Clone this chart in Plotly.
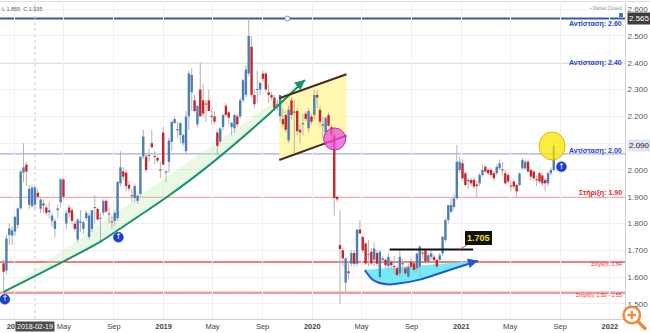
import plotly.graph_objects as go
import pandas as pd

# ---------------- DATA (weekly candles) ----------------
first_week = "2017-12-04"
opens = [1.652,1.625,1.757,1.755,1.770,1.795,1.857,1.990,2.020,1.870,1.865,1.870,1.915,1.855,1.875,1.860,1.842,1.810,1.780,1.850,
         1.880,1.965,1.800,1.860,1.850,1.800,1.740,1.802,1.780,1.820,1.750,1.780,1.858,1.855,1.818,1.840,1.885,1.838,1.808,1.810,
         1.820,1.950,1.995,1.990,1.945,1.906,1.895,1.885,1.910,2.050,2.050,2.052,2.100,2.052,2.045,2.002,2.140,1.990,2.030,2.105,
         2.175,2.152,2.130,2.100,2.070,2.200,2.290,2.260,2.170,2.300,2.260,2.248,2.260,2.202,2.200,2.140,2.106,2.160,2.240,2.215,
         2.160,2.155,2.200,2.200,2.260,2.280,2.360,2.460,2.280,2.298,2.300,2.360,2.360,2.290,2.280,2.270,2.240,2.200,2.190,2.205,
         2.110,2.260,2.218,2.220,2.150,2.170,2.210,2.155,2.200,2.205,2.280,2.225,2.170,2.140,2.205,2.160,2.130,1.900,1.720,1.700,
         1.580,1.622,1.650,1.690,1.650,1.778,1.750,1.726,1.682,1.695,1.665,1.690,1.600,1.670,1.665,1.640,1.657,1.642,1.633,1.614,
         1.652,1.633,1.602,1.658,1.652,1.633,1.640,1.692,1.700,1.658,1.676,1.676,1.664,1.664,1.689,1.739,1.813,1.844,1.862,1.894,
         2.000,2.025,1.988,1.957,1.963,1.963,1.946,1.950,1.981,2.012,2.000,2.000,1.988,1.988,2.006,2.002,1.988,1.981,1.942,1.957,
         1.944,1.944,2.006,2.006,2.031,2.000,1.994,1.965,1.988,1.980,1.963,1.950,1.988,2.000]
highs = [1.665,1.760,1.800,1.790,1.830,1.860,2.000,2.100,2.030,1.945,1.945,1.940,1.930,1.895,1.890,1.870,1.880,1.840,1.820,1.870,
         1.970,1.970,1.850,1.870,1.860,1.810,1.820,1.850,1.810,1.850,1.840,1.850,1.905,1.860,1.840,1.890,1.890,1.860,1.830,1.850,
         1.960,2.070,2.010,2.000,1.960,1.930,1.950,1.910,2.050,2.150,2.060,2.080,2.150,2.070,2.050,2.030,2.160,2.000,2.120,2.180,
         2.200,2.180,2.180,2.135,2.220,2.370,2.380,2.280,2.240,2.400,2.320,2.260,2.300,2.230,2.220,2.150,2.160,2.210,2.250,2.220,
         2.180,2.210,2.210,2.270,2.340,2.390,2.565,2.500,2.300,2.370,2.330,2.370,2.365,2.320,2.290,2.280,2.260,2.280,2.230,2.220,
         2.240,2.270,2.260,2.230,2.170,2.210,2.220,2.230,2.210,2.300,2.300,2.240,2.200,2.200,2.215,2.170,2.140,1.905,1.850,1.710,
         1.675,1.660,1.700,1.700,1.780,1.813,1.755,1.730,1.740,1.710,1.730,1.700,1.700,1.680,1.670,1.690,1.665,1.680,1.640,1.700,
         1.670,1.640,1.650,1.670,1.660,1.690,1.720,1.700,1.705,1.690,1.700,1.685,1.670,1.690,1.755,1.820,1.870,1.894,1.910,2.093,
         2.050,2.040,1.995,1.970,1.970,1.975,1.960,1.990,2.020,2.020,2.005,2.010,1.995,2.020,2.040,2.030,2.000,1.990,1.960,1.965,
         1.950,1.990,2.045,2.040,2.040,2.005,2.000,1.980,1.995,1.990,1.970,1.995,2.010,2.100]
lows = [1.545,1.610,1.720,1.720,1.755,1.780,1.850,1.955,1.940,1.855,1.860,1.855,1.890,1.840,1.840,1.830,1.820,1.790,1.750,1.820,
        1.860,1.890,1.780,1.820,1.800,1.770,1.730,1.770,1.760,1.810,1.740,1.770,1.800,1.810,1.730,1.830,1.840,1.800,1.780,1.790,
        1.810,1.940,1.960,1.920,1.920,1.880,1.880,1.875,1.900,2.040,1.990,2.030,2.080,2.020,2.025,1.970,2.020,1.955,1.990,2.070,
        2.170,2.120,2.100,2.090,2.060,2.150,2.220,2.215,2.160,2.200,2.200,2.180,2.220,2.170,2.170,2.060,2.100,2.150,2.200,2.170,
        2.130,2.140,2.160,2.190,2.250,2.270,2.350,2.270,2.230,2.250,2.280,2.330,2.290,2.250,2.260,2.220,2.220,2.180,2.160,2.140,
        2.100,2.190,2.060,2.130,2.100,2.130,2.180,2.140,2.170,2.190,2.230,2.170,2.120,2.130,2.160,2.080,1.830,1.880,1.500,1.640,
        1.545,1.590,1.640,1.640,1.640,1.760,1.690,1.645,1.640,1.645,1.640,1.640,1.590,1.655,1.630,1.620,1.630,1.610,1.600,1.600,
        1.620,1.605,1.595,1.630,1.615,1.620,1.600,1.670,1.650,1.650,1.665,1.655,1.630,1.655,1.680,1.730,1.800,1.840,1.850,1.890,
        1.990,1.960,1.940,1.930,1.940,1.930,1.900,1.940,1.975,1.990,1.980,1.975,1.960,1.980,2.000,1.980,1.945,1.950,1.920,1.930,
        1.900,1.940,2.000,2.000,1.990,1.960,1.960,1.940,1.950,1.940,1.920,1.940,1.980,1.995]
closes = [1.620,1.745,1.782,1.775,1.825,1.857,1.994,2.010,1.994,1.930,1.935,1.935,1.900,1.890,1.868,1.840,1.850,1.830,1.810,1.857,
          1.965,1.900,1.840,1.840,1.810,1.780,1.815,1.808,1.805,1.840,1.830,1.850,1.862,1.815,1.822,1.885,1.845,1.834,1.804,1.840,
          1.955,2.010,1.975,1.940,1.930,1.902,1.940,1.905,2.050,2.125,2.000,2.056,2.085,2.048,2.035,1.998,2.020,1.995,2.110,2.180,
          2.190,2.148,2.175,2.130,2.200,2.360,2.355,2.220,2.240,2.200,2.210,2.244,2.220,2.198,2.180,2.090,2.155,2.205,2.205,2.195,
          2.175,2.205,2.170,2.260,2.335,2.375,2.500,2.280,2.245,2.302,2.325,2.340,2.300,2.280,2.270,2.230,2.245,2.280,2.170,2.150,
          2.225,2.205,2.214,2.145,2.140,2.175,2.190,2.220,2.180,2.280,2.270,2.180,2.165,2.195,2.165,2.130,1.895,1.890,1.705,1.670,
          1.670,1.615,1.690,1.650,1.778,1.763,1.700,1.651,1.686,1.651,1.707,1.650,1.695,1.665,1.645,1.676,1.645,1.638,1.608,1.676,
          1.648,1.614,1.639,1.639,1.627,1.689,1.714,1.688,1.658,1.682,1.689,1.664,1.640,1.682,1.751,1.813,1.869,1.869,1.894,2.031,
          2.031,1.969,1.944,1.963,1.950,1.938,1.940,1.981,2.000,1.994,1.988,1.981,1.969,2.012,2.025,1.998,1.950,1.957,1.938,1.938,
          1.920,1.988,2.037,2.031,1.994,1.975,1.969,1.962,1.957,1.950,1.950,1.988,2.000,2.090]

# horizontal levels (price) and their labels
level_values = [2.565, 2.40, 2.06, 1.90, 1.657, 1.542]
level_labels = ["Αντίσταση: 2.60", "Αντίσταση: 2.40", "Αντίσταση: 2.00",
                "Στήριξη: 1.90", "Στήριξη: 1.64", "Στήριξη: 1.50 - 1.55"]
label_levels = [2.5448, 2.398, 2.072, 1.913, 1.6455, 1.5325]

y_ticks = [1.5, 1.6, 1.7, 1.8, 1.9, 2.0, 2.1, 2.2, 2.3, 2.4, 2.5, 2.6]
y_tick_text = ["1.500", "1.600", "1.700", "1.800", "1.900", "2.000", "", "2.200", "2.300", "2.400", "2.500", "2.600"]
x_tick_dates = ["2018-01-01", "2018-05-01", "2018-09-01", "2019-01-01", "2019-05-01", "2019-09-01",
                "2020-01-01", "2020-05-01", "2020-09-01", "2021-01-01", "2021-05-01", "2021-09-01", "2022-01-01"]
x_tick_text = ["<b>2018</b>", "May", "Sep", "<b>2019</b>", "May", "Sep", "<b>2020</b>", "May", "Sep",
               "<b>2021</b>", "May", "Sep", "<b>2022</b>"]

# drawings (analyst annotations)
curve_dates = ["2017-12-04", "2018-04-28", "2018-07-28", "2018-09-11", "2019-01-09", "2019-04-24", "2019-09-01", "2019-12-14"]
curve_vals = [1.545, 1.657, 1.731, 1.776, 1.899, 2.019, 2.187, 2.336]
cup_dates = ["2020-05-09", "2020-05-29", "2020-07-02", "2020-08-03", "2020-09-21", "2020-11-09", "2020-12-28", "2021-02-11"]
cup_vals = [1.627, 1.590, 1.5735, 1.577, 1.591, 1.6146, 1.639, 1.6616]
channel_dates = ["2019-10-12", "2020-03-25"]
channel_top = [2.2675, 2.357]
channel_bottom = [2.037, 2.128]
neck_dates = ["2020-07-09", "2021-01-30"]
neck_val = 1.703
up_marks_dates = ["2017-12-07", "2018-09-12", "2021-09-04"]
up_marks_vals = [1.5175, 1.749, 2.012]

# ---------------- FIGURE ----------------
dates = pd.date_range(first_week, periods=len(closes), freq="7D")

FONT = "Liberation Sans, Arial, sans-serif"
BLUE = "#4b7db6"
RED = "#c8242b"
WICK = "#b3b3b3"

fig = go.Figure()

# light green area between the curve and its chord
fig.add_trace(go.Scatter(x=curve_dates, y=curve_vals, mode="lines", fill="toself",
                         fillcolor="rgba(175,235,165,0.28)", line=dict(width=0), hoverinfo="skip"))
# yellow rising channel
fig.add_trace(go.Scatter(x=[channel_dates[0], channel_dates[1], channel_dates[1], channel_dates[0]],
                         y=[channel_top[0], channel_top[1], channel_bottom[1], channel_bottom[0]],
                         mode="lines", fill="toself", fillcolor="rgba(255,247,160,0.85)",
                         line=dict(width=0), hoverinfo="skip"))
# cyan rounding bottom
fig.add_trace(go.Scatter(x=cup_dates, y=cup_vals, mode="lines", fill="toself",
                         fillcolor="rgba(98,232,246,0.88)", line=dict(width=0), hoverinfo="skip"))

# wicks
wx, wy = [], []
for d, o, h, l, c in zip(dates, opens, highs, lows, closes):
    top, bot = max(o, c), min(o, c)
    wx += [d, d, None, d, d, None]
    wy += [bot, l, None, top, h, None]
fig.add_trace(go.Scatter(x=wx, y=wy, mode="lines", line=dict(color=WICK, width=1), hoverinfo="skip"))

# bodies
for up, col in [(True, BLUE), (False, RED)]:
    bx, by = [], []
    for d, o, c in zip(dates, opens, closes):
        if (c >= o) == up:
            lo, hi = min(o, c), max(o, c)
            if hi - lo < 0.004:
                mid = (hi + lo) / 2
                lo, hi = mid - 0.002, mid + 0.002
            bx += [d, d, None]
            by += [lo, hi, None] if up else [hi, lo, None]
    fig.add_trace(go.Scatter(x=bx, y=by, mode="lines", line=dict(color=col, width=2.4), hoverinfo="skip"))

# green parabolic support curve
fig.add_trace(go.Scatter(x=curve_dates, y=curve_vals, mode="lines",
                         line=dict(color="#17936a", width=2, shape="spline", smoothing=0.8), hoverinfo="skip"))
# channel borders
for vals in (channel_top, channel_bottom):
    fig.add_trace(go.Scatter(x=channel_dates, y=vals, mode="lines",
                             line=dict(color="#4a2a1e", width=2), hoverinfo="skip"))
# cup curve
fig.add_trace(go.Scatter(x=cup_dates, y=cup_vals, mode="lines",
                         line=dict(color="#2457d6", width=2, shape="spline", smoothing=0.8), hoverinfo="skip"))
# neckline
fig.add_trace(go.Scatter(x=neck_dates, y=[neck_val, neck_val], mode="lines",
                         line=dict(color="#111111", width=2), hoverinfo="skip"))

# blue up markers
fig.add_trace(go.Scatter(x=up_marks_dates, y=up_marks_vals, mode="markers+text",
                         marker=dict(symbol="circle", size=10, color="#1d3fd0",
                                     line=dict(color="#1d3fd0", width=0.5)),
                         text=["↑"] * len(up_marks_vals), textposition="middle center",
                         textfont=dict(family="DejaVu Sans", size=8, color="white"), hoverinfo="skip"))
# handle on resistance line
fig.add_trace(go.Scatter(x=["2019-11-01"], y=[level_values[0]], mode="markers",
                         marker=dict(symbol="circle", size=5, color="white", line=dict(color="#7d8fb8", width=1)),
                         hoverinfo="skip"))

shapes = []
level_styles = [("#3b58a6", 2), ("#7f8fe0", 1), ("#8f99e2", 1), ("#e35050", 1.3), ("#f07e7e", 2), ("#f29d9d", 2.5)]
for v, (col, w) in zip(level_values, level_styles):
    shapes.append(dict(type="line", xref="paper", x0=0, x1=1, yref="y", y0=v, y1=v,
                       line=dict(color=col, width=w), layer="between"))
# crosshair
shapes.append(dict(type="line", xref="x", x0="2018-02-19", x1="2018-02-19", yref="paper", y0=0, y1=1,
                   line=dict(color="#c8c8c8", width=1, dash="dot"), layer="between"))
# magenta circle
shapes.append(dict(type="circle", xref="x", xsizemode="pixel", xanchor="2020-02-25", x0=-11, x1=11,
                   yref="y", ysizemode="pixel", yanchor=2.1157, y0=-11, y1=11,
                   fillcolor="rgba(240,80,220,0.75)", line=dict(color="#c42aa8", width=1), layer="above"))
# yellow ellipse
shapes.append(dict(type="circle", xref="x", xsizemode="pixel", xanchor="2021-08-12", x0=-13, x1=13,
                   yref="y", ysizemode="pixel", yanchor=2.0896, y0=-14, y1=14,
                   fillcolor="rgba(250,230,0,0.75)", line=dict(color="#e0b400", width=1), layer="above"))


# pixel helpers for chrome outside plot (plot area 625 x 316 px, top at y=3)
def px(x):
    return x / 625.0


def py(y):
    return (319.0 - y) / 316.0


# top frame line
shapes.append(dict(type="line", xref="paper", yref="paper", x0=0, x1=px(650), y0=py(1.5), y1=py(1.5),
                   line=dict(color="#dddddd", width=1)))
# tiny blue icon
shapes.append(dict(type="rect", xref="paper", yref="paper", x0=px(619), x1=px(623), y0=py(17), y1=py(13),
                   fillcolor="#4a6fd0", line=dict(width=0)))
# magnifier icon
shapes.append(dict(type="line", xref="paper", yref="paper", x0=px(637.5), x1=px(646), y0=py(321), y1=py(329.5),
                   line=dict(color="#f08a3c", width=3.5)))
shapes.append(dict(type="circle", xref="paper", yref="paper", x0=px(623.5), x1=px(640), y0=py(323.2), y1=py(306.8),
                   fillcolor="white", line=dict(color="#f08a3c", width=2.5)))
shapes.append(dict(type="line", xref="paper", yref="paper", x0=px(627.5), x1=px(636), y0=py(315), y1=py(315),
                   line=dict(color="#f08a3c", width=2.2)))
shapes.append(dict(type="line", xref="paper", yref="paper", x0=px(631.75), x1=px(631.75), y0=py(310.8), y1=py(319.2),
                   line=dict(color="#f08a3c", width=2.2)))

annotations = []
label_fmt = [("#2644c8", 7, True), ("#2644c8", 7, True), ("#2644c8", 7, True),
             ("#e0282f", 7, True), ("#e0282f", 5.3, False), ("#e0282f", 5.3, False)]
for txt, v, (col, sz, bold) in zip(level_labels, label_levels, label_fmt):
    annotations.append(dict(text=("<b>%s</b>" % txt) if bold else txt, xref="paper", x=1, xanchor="right", xshift=-1,
                            yref="y", y=v, yanchor="middle", showarrow=False,
                            font=dict(family=FONT, size=sz, color=col)))
# arrowheads on drawn curves
annotations.append(dict(x="2019-12-14", y=2.336, xref="x", yref="y", ax="2019-11-22", ay=2.308,
                        axref="x", ayref="y", showarrow=True, arrowhead=2, arrowsize=1, arrowwidth=2,
                        arrowcolor="#17936a", text=""))
annotations.append(dict(x="2021-02-11", y=1.6616, xref="x", yref="y", ax="2021-01-18", ay=1.652,
                        axref="x", ayref="y", showarrow=True, arrowhead=2, arrowsize=1, arrowwidth=2,
                        arrowcolor="#2457d6", text=""))
# 1.705 callout
annotations.append(dict(x="2020-12-28", y=1.704, xref="x", yref="y", ax=19, ay=-11, showarrow=True,
                        arrowhead=0, arrowwidth=1, arrowcolor="#e05050",
                        text="<b>1.705</b>", font=dict(family=FONT, size=9, color="#f5e21a"),
                        bgcolor="#111111", bordercolor="#111111", borderpad=1))
# axis price tags
annotations.append(dict(text="2.565", xref="paper", x=1, xanchor="left", xshift=2, yref="y", y=2.565,
                        showarrow=False, bgcolor="#3d3d3d", borderpad=1,
                        font=dict(family=FONT, size=8, color="white")))
annotations.append(dict(text="2.090", xref="paper", x=1, xanchor="left", xshift=2, yref="y", y=2.090,
                        showarrow=False, bgcolor="#dfe5ee", borderpad=1,
                        font=dict(family=FONT, size=8, color="#222")))
# crosshair date tag
annotations.append(dict(text="2018-02-19", xref="x", x="2018-02-19", yref="paper", y=py(326.7), yanchor="middle",
                        showarrow=False, bgcolor="#4d4d4d", borderpad=1,
                        font=dict(family=FONT, size=7, color="white")))
# header texts
annotations.append(dict(text="L 1.855  C 1.935", xref="paper", x=0, xanchor="left", yref="paper", y=py(9.3),
                        yanchor="middle", showarrow=False, font=dict(family=FONT, size=5.5, color="#666")))
annotations.append(dict(text="• Market Closed", xref="paper", x=px(624), xanchor="right", yref="paper", y=py(9),
                        yanchor="middle", showarrow=False, font=dict(family=FONT, size=4.5, color="#999")))

fig.update_layout(
    width=650, height=333,
    margin=dict(l=0, r=25, t=3, b=14),
    paper_bgcolor="white", plot_bgcolor="white",
    showlegend=False, hovermode=False,
    font=dict(family=FONT),
    shapes=shapes, annotations=annotations,
    xaxis=dict(type="date", range=["2017-11-25 05:00", "2022-02-07"], tickvals=x_tick_dates, ticktext=x_tick_text,
               tickfont=dict(family=FONT, size=7.5, color="#444"), showgrid=True, gridcolor="#f0f0f0",
               showline=True, linecolor="#cfcfcf", ticks="", zeroline=False, automargin=False),
    yaxis=dict(side="right", range=[1.444, 2.623], tickvals=y_ticks, ticktext=y_tick_text,
               tickfont=dict(family=FONT, size=8, color="#555"), showgrid=True, gridcolor="#f0f0f0",
               showline=True, linecolor="#cfcfcf", ticks="", zeroline=False, automargin=False),
)

fig.write_html("out.html")
